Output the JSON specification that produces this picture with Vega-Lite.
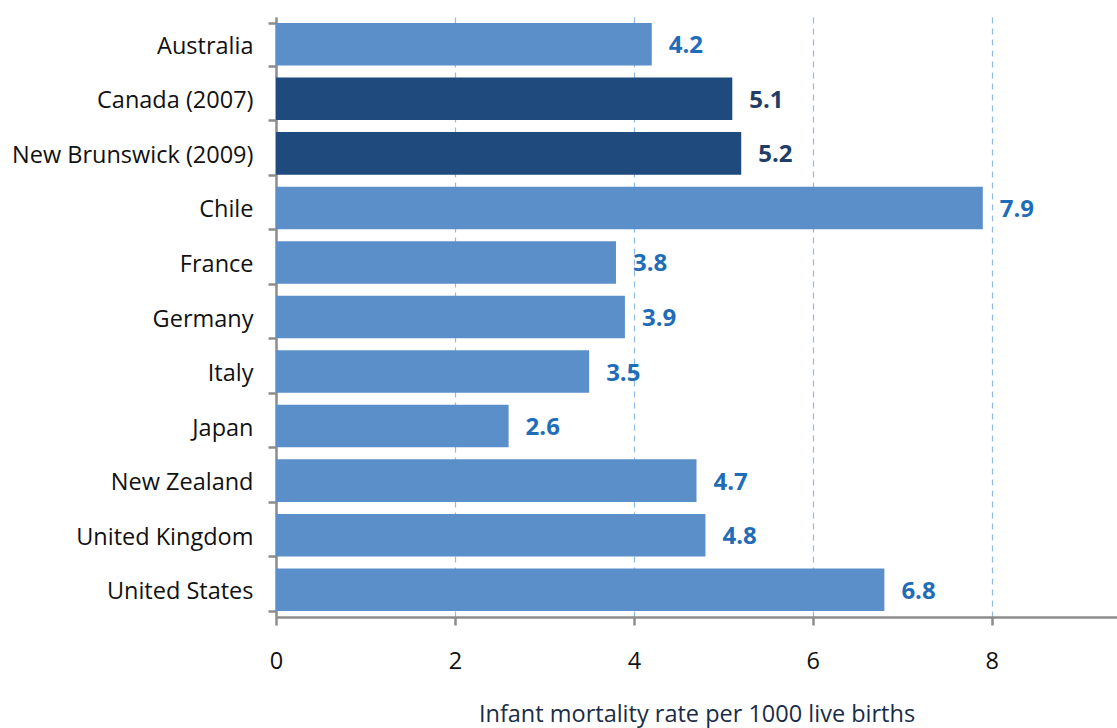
{
  "$schema": "https://vega.github.io/schema/vega-lite/v6.json",
  "width": 841,
  "height": 600,
  "autosize": "none",
  "padding": {"left": 276, "top": 17, "right": 0, "bottom": 111},
  "background": "white",
  "config": {
    "view": {"stroke": null},
    "font": "Open Sans"
  },
  "data": {
    "values": [
      {"region": "Australia", "rate": 4.2, "group": "International"},
      {"region": "Canada (2007)", "rate": 5.1, "group": "Canada"},
      {"region": "New Brunswick (2009)", "rate": 5.2, "group": "Canada"},
      {"region": "Chile", "rate": 7.9, "group": "International"},
      {"region": "France", "rate": 3.8, "group": "International"},
      {"region": "Germany", "rate": 3.9, "group": "International"},
      {"region": "Italy", "rate": 3.5, "group": "International"},
      {"region": "Japan", "rate": 2.6, "group": "International"},
      {"region": "New Zealand", "rate": 4.7, "group": "International"},
      {"region": "United Kingdom", "rate": 4.8, "group": "International"},
      {"region": "United States", "rate": 6.8, "group": "International"}
    ]
  },
  "encoding": {
    "y": {
      "field": "region",
      "type": "nominal",
      "sort": null,
      "scale": {"paddingInner": 0.22, "paddingOuter": 0.11},
      "axis": {
        "title": null,
        "tickBand": "extent",
        "tickSize": 8,
        "tickWidth": 2.5,
        "tickColor": "#8c8c8c",
        "domainColor": "#8c8c8c",
        "domainWidth": 2.5,
        "labelFont": "Open Sans",
        "labelFontSize": 23.5,
        "labelColor": "#111111",
        "labelPadding": 15,
        "labelOffset": 2,
        "labelLimit": 300
      }
    },
    "x": {
      "field": "rate",
      "type": "quantitative",
      "scale": {"domain": [0, 9.4], "nice": false},
      "axis": {
        "title": "Infant mortality rate per 1000 live births",
        "titleFont": "Open Sans",
        "titleFontSize": 23.5,
        "titleFontWeight": "normal",
        "titleColor": "#1a2c48",
        "titlePadding": 30,
        "values": [0, 2, 4, 6, 8],
        "labelFlush": false,
        "grid": true,
        "gridColor": "#8fbbe6",
        "gridDash": [6, 5],
        "gridWidth": 1.2,
        "tickSize": 8,
        "tickWidth": 2.5,
        "tickColor": "#8c8c8c",
        "domainColor": "#8c8c8c",
        "domainWidth": 2.5,
        "labelFont": "Open Sans",
        "labelFontSize": 23.5,
        "labelColor": "#111111",
        "labelPadding": 24
      }
    }
  },
  "layer": [
    {
      "mark": {"type": "bar"},
      "encoding": {
        "color": {
          "field": "group",
          "type": "nominal",
          "legend": null,
          "scale": {"domain": ["International", "Canada"], "range": ["#5b8fc9", "#1f4a7e"]}
        }
      }
    },
    {
      "mark": {"type": "text", "align": "left", "baseline": "middle", "dx": 17, "dy": 2, "fontSize": 24, "fontWeight": "bold", "font": "Open Sans"},
      "encoding": {
        "text": {"field": "rate", "type": "quantitative", "format": ".1f"},
        "color": {
          "field": "group",
          "type": "nominal",
          "legend": null,
          "scale": {"domain": ["International", "Canada"], "range": ["#1f6db8", "#1f3d66"]}
        }
      }
    }
  ],
  "resolve": {"scale": {"color": "independent"}}
}
